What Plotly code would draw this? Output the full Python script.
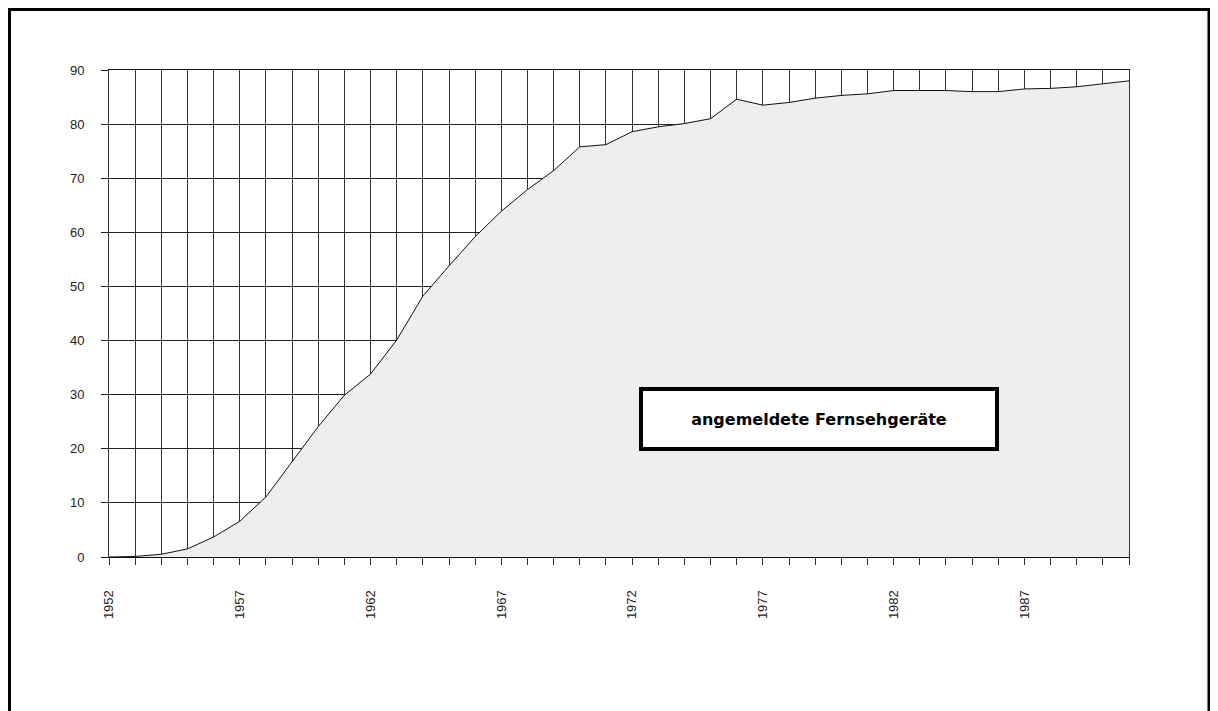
"""Angemeldete Fernsehgeräte 1952-1991 als Flächendiagramm."""

import plotly.graph_objects as go

# Daten
years = list(range(1952, 1992))
tv_sets = [
    0.0, 0.1, 0.5, 1.5, 3.7, 6.6, 11.1, 17.5, 24.1, 29.9,
    33.8, 40.1, 48.2, 53.8, 59.2, 63.9, 67.9, 71.4, 75.8, 76.2,
    78.6, 79.5, 80.1, 81.0, 84.6, 83.5, 84.0, 84.8, 85.3, 85.6,
    86.2, 86.2, 86.2, 86.0, 86.0, 86.5, 86.6, 86.9, 87.5, 88.0,
]
label_years = [1952, 1957, 1962, 1967, 1972, 1977, 1982, 1987]
y_ticks = [0, 10, 20, 30, 40, 50, 60, 70, 80, 90]
box_text = "angemeldete Fernsehgeräte"

W, H = 1218, 711
OFF = 8  # Seitenrand des Browsers (body margin)
# Plotfläche in Bildschirm-Pixeln
PX0, PX1, PY0, PY1 = 109, 1129, 70, 557
ML, MT = PX0 - OFF, PY0 - OFF
MR, MB = W - (PX1 - OFF), H - (PY1 - OFF)


def px_to_paper(x, y):
    """Bildschirm-Pixel -> Paper-Koordinaten"""
    return (x - PX0) / (PX1 - PX0), (PY1 - y) / (PY1 - PY0)


fig = go.Figure()

fig.add_trace(go.Scatter(
    x=years,
    y=tv_sets,
    mode="lines",
    line=dict(color="#111111", width=1),
    fill="tozeroy",
    fillcolor="#eeeeee",
    hovertemplate="%{x}: %{y:.1f}<extra></extra>",
    showlegend=False,
))

# äußerer Rahmen (muss innerhalb der Figur liegen)
bx0, by0 = px_to_paper(OFF + 1.5, OFF + 1.5)
bx1, by1 = px_to_paper(1209, 740)
fig.add_shape(
    type="rect", xref="paper", yref="paper",
    x0=bx0, y0=by1, x1=bx1, y1=by0,
    line=dict(color="black", width=3),
    layer="above",
)

# Beschriftungskasten
ax, ay = px_to_paper(819, 418.5)
fig.add_annotation(
    xref="paper", yref="paper",
    x=ax, y=ay,
    text=f"<b>{box_text}</b>",
    showarrow=False,
    font=dict(family="DejaVu Sans", size=16, color="black"),
    bgcolor="white",
    bordercolor="black",
    borderwidth=4,
    borderpad=4,
    width=344,
    height=48,
    xanchor="center",
    yanchor="middle",
)

fig.update_layout(
    width=W,
    height=H,
    margin=dict(l=ML, r=MR, t=MT, b=MB),
    paper_bgcolor="white",
    plot_bgcolor="white",
    font=dict(family="Liberation Sans, Arial", size=12, color="#222222"),
    xaxis=dict(
        range=[1952, 1991],
        tickmode="array",
        tickvals=years,
        ticktext=[str(y) if y in label_years else "" for y in years],
        tickangle=-90,
        tickfont=dict(size=13, color="#222222"),
        ticks="outside",
        ticklen=7,
        tickcolor="#333333",
        ticklabelstandoff=20,
        showgrid=True,
        gridcolor="#333333",
        gridwidth=1,
        showline=True,
        mirror=True,
        linecolor="#111111",
        linewidth=1,
        zeroline=False,
        fixedrange=True,
    ),
    yaxis=dict(
        range=[0, 90],
        tickmode="array",
        tickvals=y_ticks,
        ticks="outside",
        ticklen=7,
        tickcolor="#222222",
        ticklabelstandoff=14,
        tickfont=dict(size=13, color="#222222"),
        showgrid=True,
        gridcolor="#222222",
        gridwidth=1,
        showline=True,
        mirror=True,
        linecolor="#333333",
        linewidth=1,
        zeroline=False,
        fixedrange=True,
    ),
)

fig.write_html("out.html")
